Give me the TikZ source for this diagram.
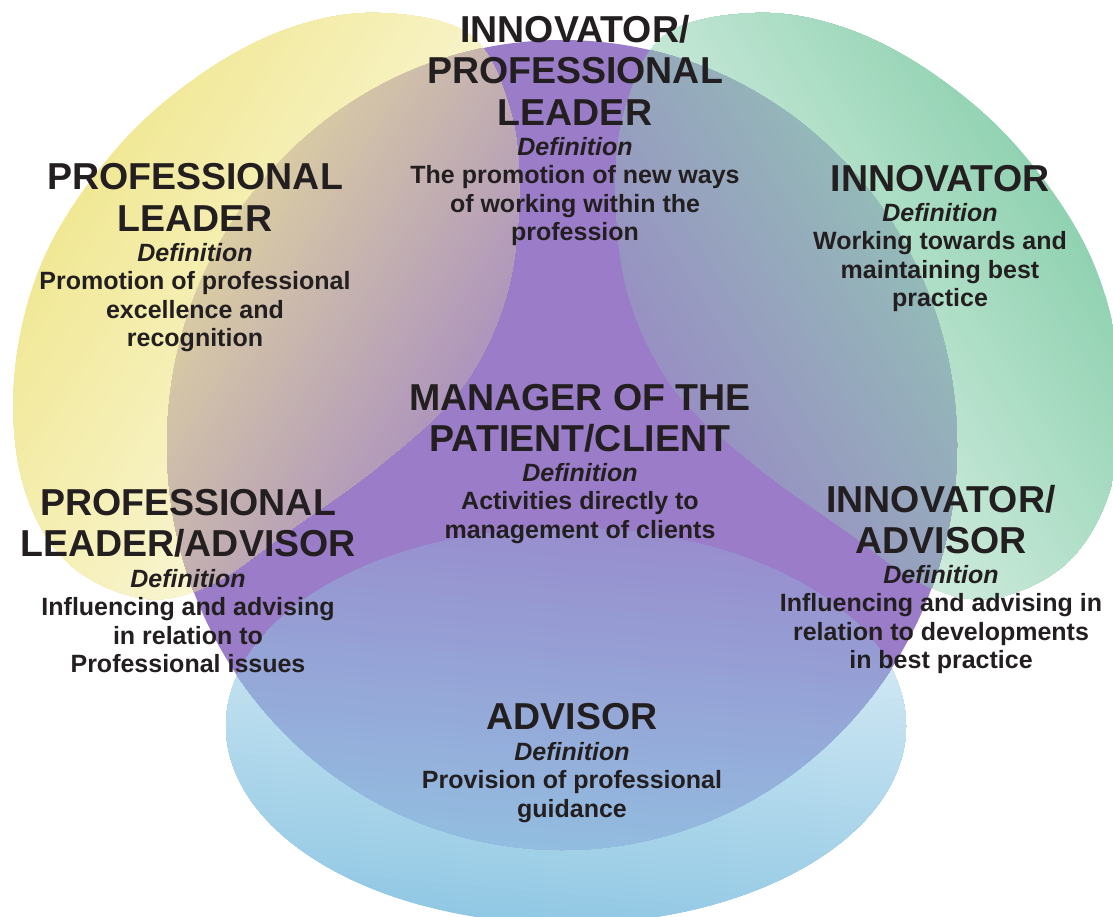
\documentclass[tikz,border=0pt]{standalone}
\usepackage{fontspec}
\setmainfont{Liberation Sans}
\definecolor{txt}{RGB}{35,31,32}
\definecolor{pur}{RGB}{154,124,200}
\definecolor{yA}{RGB}{241,232,150}
\definecolor{yB}{RGB}{252,250,232}
\definecolor{yoB}{RGB}{173,148,189}
\definecolor{gA}{RGB}{145,210,178}
\definecolor{gB}{RGB}{231,245,238}
\definecolor{goB}{RGB}{152,143,195}
\definecolor{bA}{RGB}{145,200,228}
\definecolor{bB}{RGB}{231,243,249}
\definecolor{boB}{RGB}{152,141,206}
\newcommand{\yellowpath}{(380,13) .. controls (410,14.2) and (448.3,18.8) .. (470,35)
 .. controls (491.7,51.2) and (501.8,82.5) .. (510,110)
 .. controls (518.2,137.5) and (519.8,168.3) .. (519,200)
 .. controls (518.2,231.7) and (514.8,268.3) .. (505,300)
 .. controls (495.2,331.7) and (480.8,362.5) .. (460,390)
 .. controls (439.2,417.5) and (408.3,441.7) .. (380,465)
 .. controls (351.7,488.3) and (318.3,510) .. (290,530)
 .. controls (261.7,550) and (235,573.7) .. (210,585)
 .. controls (185,596.3) and (164.2,602.2) .. (140,598)
 .. controls (115.8,593.8) and (84.7,579.7) .. (65,560)
 .. controls (45.3,540.3) and (30.3,511.7) .. (22,480)
 .. controls (13.7,448.3) and (11.2,407.5) .. (15,370)
 .. controls (18.8,332.5) and (28.3,291.7) .. (45,255)
 .. controls (61.7,218.3) and (89.2,180) .. (115,150)
 .. controls (140.8,120) and (170.8,95.3) .. (200,75)
 .. controls (229.2,54.7) and (260,38.3) .. (290,28)
 .. controls (320,17.7) and (350,11.8) .. (380,13) -- cycle}
\newcommand{\greenpath}{(755,13) .. controls (725,14.2) and (686.7,18.8) .. (665,35)
 .. controls (643.3,51.2) and (633.2,82.5) .. (625,110)
 .. controls (616.8,137.5) and (615.2,168.3) .. (616,200)
 .. controls (616.8,231.7) and (620.2,268.3) .. (630,300)
 .. controls (639.8,331.7) and (654.2,362.5) .. (675,390)
 .. controls (695.8,417.5) and (726.7,441.7) .. (755,465)
 .. controls (783.3,488.3) and (816.7,510) .. (845,530)
 .. controls (873.3,550) and (900,573.7) .. (925,585)
 .. controls (950,596.3) and (970.8,602.2) .. (995,598)
 .. controls (1019.2,593.8) and (1050.3,579.7) .. (1070,560)
 .. controls (1089.7,540.3) and (1104.7,511.7) .. (1113,480)
 .. controls (1121.3,448.3) and (1123.8,407.5) .. (1120,370)
 .. controls (1116.2,332.5) and (1106.7,291.7) .. (1090,255)
 .. controls (1073.3,218.3) and (1045.8,180) .. (1020,150)
 .. controls (994.2,120) and (964.2,95.3) .. (935,75)
 .. controls (905.8,54.7) and (875,38.3) .. (845,28)
 .. controls (815,17.7) and (785,11.8) .. (755,13) -- cycle}
\newcommand{\bluepath}{(566,726) ellipse [x radius=340, y radius=198]}
\newcommand{\purplepath}{(562,445) ellipse [x radius=395, y radius=405]}
% #1 angle, #2 smin, #3 smax, #4 colour A, #5 colour B
\newcommand{\stripes}[5]{%
  \begin{scope}[rotate=#1]
    \fill[#4] (-2000,-2000) -- (2000,-2000) -- (2000,2000) -- (-2000,2000) -- cycle;
    \foreach \ii in {1,...,49}{%
      \edef\stpct{\the\numexpr 99-2*\ii\relax}%
      \pgfmathsetmacro{\stpos}{(#2)+((#3)-(#2))/50*\ii}%
      \fill[#4!\stpct!#5] (\stpos,-2000) -- (2000,-2000) -- (2000,2000) -- (\stpos,2000) -- cycle;
    }
  \end{scope}}
\newcommand{\hstrut}{\rule{0pt}{30pt}}
\newcommand{\bstrut}{\rule{0pt}{22pt}}
\tikzset{
  head/.style={font=\fontsize{37.5}{41.5}\selectfont\bfseries, align=center, anchor=north, inner sep=0pt, text=txt},
  body/.style={font=\fontsize{25}{28.4}\selectfont\bfseries, align=center, anchor=north, inner sep=0pt, text=txt},
}
\begin{document}
\begin{tikzpicture}[x=1pt,y=-1pt]
\useasboundingbox (0,0) rectangle (1113,916);
\begin{scope}
  \clip (0,0) rectangle (1113,916);
  % yellow
  \begin{scope}
    \clip \yellowpath;
    \stripes{-32}{173}{603}{yA}{yB}
  \end{scope}
  % green
  \begin{scope}
    \clip \greenpath;
    \stripes{212}{-789.5}{-359.5}{gA}{gB}
  \end{scope}
  % blue
  \begin{scope}
    \clip \bluepath;
    \stripes{85}{-873}{-474}{bA}{bB}
  \end{scope}
  % purple
  \fill[pur] \purplepath;
  % overlaps
  \begin{scope}
    \clip \purplepath;
    \begin{scope}
      \clip \yellowpath;
      \stripes{-32}{173}{603}{yA}{yoB}
    \end{scope}
    \begin{scope}
      \clip \greenpath;
      \stripes{212}{-789.5}{-359.5}{gA}{goB}
    \end{scope}
    \begin{scope}
      \clip \bluepath;
      \stripes{85}{-873}{-474}{bA}{boB}
    \end{scope}
  \end{scope}
\end{scope}
% texts
\node[head] (iplh) at (575,12) {\hstrut INNOVATOR/\\PROFESSIONAL\\LEADER};
\node[body] (ipld) at (575,133) {\bstrut\textit{Definition}\\The promotion of new ways\\of working within the\\profession};
\node[head] (plh) at (195,159.5) {\hstrut PROFESSIONAL\\LEADER};
\node[body] (pld) at (195,239) {\bstrut\textit{Definition}\\Promotion of professional\\excellence and\\recognition};
\node[head] (inh) at (940,161) {\hstrut INNOVATOR};
\node[body] (ind) at (940,199) {\bstrut\textit{Definition}\\Working towards and\\maintaining best\\practice};
\node[head] (mah) at (580,380) {\hstrut MANAGER OF THE\\PATIENT/CLIENT};
\node[body] (mad) at (580,459) {\bstrut\textit{Definition}\\Activities directly to\\management of clients};
\node[head] (plah) at (188,485) {\hstrut PROFESSIONAL\\LEADER/ADVISOR};
\node[body] (plad) at (188,565) {\bstrut\textit{Definition}\\Influencing and advising\\in relation to\\Professional issues};
\node[head] (iah) at (941,482) {\hstrut INNOVATOR/\\ADVISOR};
\node[body] (iad) at (941,561) {\bstrut\textit{Definition}\\Influencing and advising in\\relation to developments\\in best practice};
\node[head] (adh) at (572,699) {\hstrut ADVISOR};
\node[body] (add) at (572,738) {\bstrut\textit{Definition}\\Provision of professional\\guidance};
\end{tikzpicture}
\end{document}
